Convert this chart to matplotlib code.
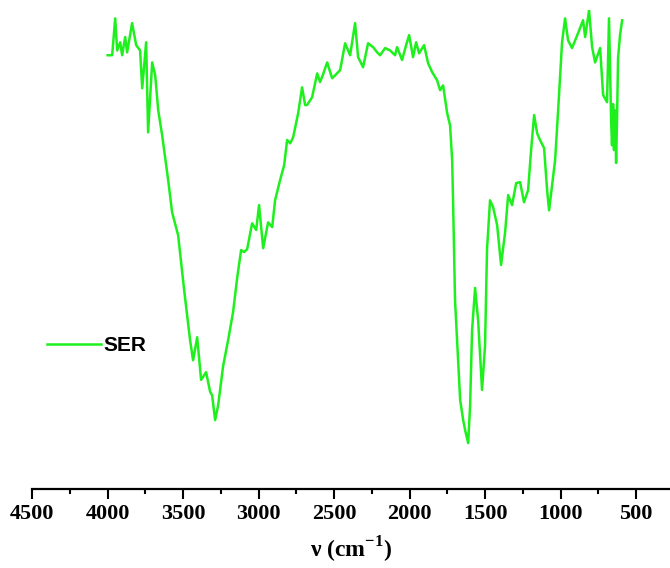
import matplotlib
matplotlib.use("Agg")
import matplotlib.pyplot as plt
from matplotlib.ticker import MultipleLocator

# IR spectrum of SER (wavenumber cm-1, transmittance a.u.)
wavenumber = [
    4000, 3970, 3950, 3937, 3917, 3904, 3884, 3871, 3838, 3811, 3785, 3771, 3745,
    3732, 3705, 3685, 3665, 3639, 3599, 3573, 3533, 3493, 3454, 3434, 3407, 3381,
    3348, 3321, 3308, 3288, 3268, 3235, 3202, 3169, 3142, 3116, 3096, 3076, 3043,
    3016, 2997, 2970, 2937, 2910, 2891, 2858, 2831, 2811, 2791, 2771, 2738, 2712,
    2692, 2679, 2646, 2612, 2593, 2573, 2546, 2513, 2487, 2460, 2427, 2394, 2361,
    2341, 2308, 2275, 2242, 2215, 2195, 2162, 2129, 2096, 2083, 2050, 2023, 2003,
    1977, 1957, 1937, 1904, 1877, 1851, 1818, 1798, 1778, 1751, 1732, 1718, 1712,
    1699, 1679, 1665, 1645, 1632, 1612, 1599, 1586, 1566, 1546, 1520, 1500, 1487,
    1467, 1447, 1420, 1394, 1367, 1347, 1321, 1294, 1268, 1242, 1215, 1195, 1175,
    1155, 1136, 1109, 1089, 1076, 1056, 1036, 1016, 990, 970, 950, 924, 884, 851,
    837, 811, 791, 771, 738, 718, 692, 679, 665, 659, 652, 646, 639, 632, 626,
    619, 606, 592,
]
transmittance = [
    90.6, 90.6, 98.3, 91.6, 93.3, 90.6, 94.4, 91.2, 97.3, 92.7, 91.6, 83.7, 93.3,
    74.5, 89.1, 86.4, 79.1, 73.9, 64.5, 57.8, 53.0, 41.5, 31.1, 26.9, 31.7, 22.8,
    24.4, 20.3, 19.6, 14.4, 17.5, 25.7, 31.1, 37.0, 44.1, 49.9, 49.5, 50.1, 55.5,
    54.1, 59.3, 50.3, 55.7, 54.7, 60.3, 64.5, 67.6, 72.9, 72.2, 73.5, 78.5, 83.9,
    80.2, 80.2, 81.8, 86.8, 85.0, 86.6, 89.1, 85.8, 86.6, 87.5, 93.1, 90.6, 97.3,
    90.2, 88.1, 93.1, 92.3, 91.2, 90.6, 92.1, 91.6, 90.6, 92.3, 89.6, 92.7, 94.8,
    90.2, 93.3, 91.0, 92.7, 88.9, 87.1, 85.4, 83.3, 84.3, 78.5, 76.0, 68.7, 60.3,
    39.5, 27.1, 18.6, 14.4, 12.3, 9.6, 17.5, 33.2, 42.0, 35.3, 20.7, 30.1, 50.1,
    60.3, 58.9, 55.1, 46.8, 53.7, 61.4, 59.3, 63.9, 64.1, 59.9, 62.4, 70.8, 78.1,
    74.3, 72.9, 71.2, 62.4, 58.2, 63.5, 68.7, 79.1, 93.3, 98.3, 93.7, 92.1, 95.2, 97.9,
    94.4, 100.0, 92.3, 89.1, 92.1, 82.3, 80.8, 98.3, 77.0, 71.8, 80.4, 70.8, 79.1, 68.1, 77.0,
    90.0, 94.8, 97.9,
]
series_name = "SER"
x_ticks = [4500, 4000, 3500, 3000, 2500, 2000, 1500, 1000, 500]

fig = plt.figure(figsize=(6.7, 5.68), dpi=100)
ax = fig.add_axes([0.048, 0.139, 0.952, 0.843])

ax.plot(wavenumber, transmittance, color="#1ef01e", lw=1.8, label=series_name)

ax.set_xlim(4500, 275)
ax.set_ylim(0, 100)

for side in ["left", "top", "right"]:
    ax.spines[side].set_visible(False)
ax.spines["bottom"].set_linewidth(1.6)
ax.set_yticks([])

ax.set_xticks(x_ticks)
ax.xaxis.set_minor_locator(MultipleLocator(250))
ax.tick_params(axis="x", which="major", length=7, width=1.5, direction="out")
ax.tick_params(axis="x", which="minor", length=3.5, width=1.5, direction="out")
for lab in ax.get_xticklabels():
    lab.set_fontfamily("Liberation Serif")
    lab.set_fontweight("bold")
    lab.set_fontsize(16)

ax.set_xlabel("ν (cm$^{\\mathregular{-1}}$)", fontfamily="Liberation Serif",
              fontweight="bold", fontsize=17)
ax.xaxis.set_label_coords(0.5, -0.095)

leg = ax.legend(loc="center left", bbox_to_anchor=(0.0, 0.30), frameon=False,
                handlelength=2.6, handletextpad=0.1, borderaxespad=0.3,
                prop={"family": "Liberation Sans", "weight": "bold", "size": 15})

fig.savefig("out.png", dpi=100)
